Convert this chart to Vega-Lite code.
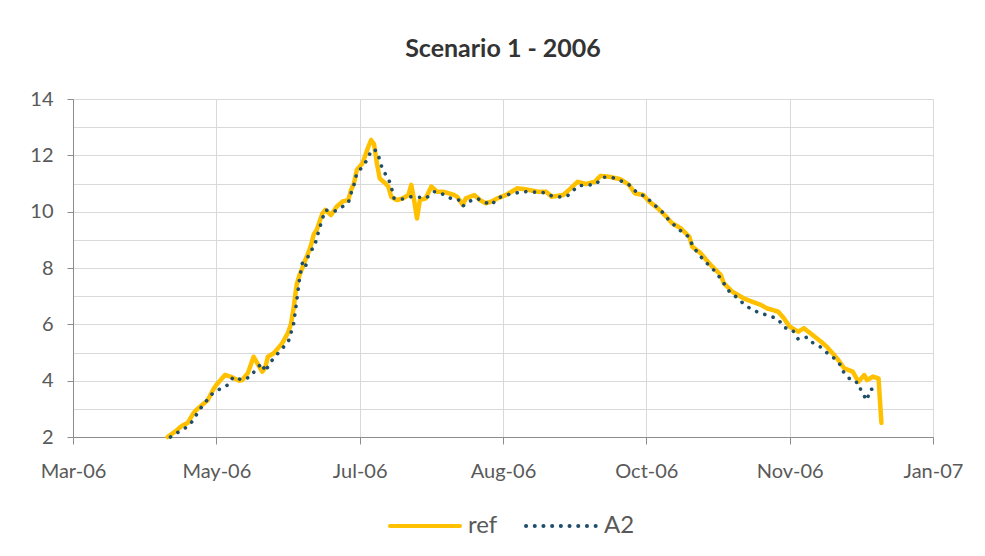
{
  "$schema": "https://vega.github.io/schema/vega-lite/v6.json",
  "autosize": {"type": "none"},
  "padding": {"left": 73, "top": 99, "right": 52, "bottom": 119},
  "width": 860,
  "height": 338,
  "background": "white",
  "config": {
    "font": "Lato",
    "view": {"stroke": null},
    "axis": {
      "labelFont": "Lato",
      "labelFontSize": 20,
      "labelColor": "#595959",
      "domainColor": "#8C8C8C",
      "tickColor": "#8C8C8C",
      "gridColor": "#D9D9D9",
      "gridWidth": 1,
      "title": null
    },
    "legend": {
      "labelFont": "Lato",
      "labelFontSize": 24,
      "labelColor": "#595959"
    },
    "title": {
      "font": "Lato",
      "fontSize": 25,
      "fontWeight": "bold",
      "color": "#333333",
      "anchor": "middle",
      "offset": 27
    }
  },
  "title": "Scenario 1 - 2006",
  "data": {
    "values": [
      {"date": "2006-04-26", "series": "ref", "value": 2.0},
      {"date": "2006-04-29", "series": "ref", "value": 2.22},
      {"date": "2006-05-01", "series": "ref", "value": 2.4},
      {"date": "2006-05-03", "series": "ref", "value": 2.5},
      {"date": "2006-05-05", "series": "ref", "value": 2.84},
      {"date": "2006-05-06", "series": "ref", "value": 2.96},
      {"date": "2006-05-10", "series": "ref", "value": 3.31},
      {"date": "2006-05-12", "series": "ref", "value": 3.7},
      {"date": "2006-05-13", "series": "ref", "value": 3.85},
      {"date": "2006-05-16", "series": "ref", "value": 4.2},
      {"date": "2006-05-18", "series": "ref", "value": 4.14},
      {"date": "2006-05-21", "series": "ref", "value": 4.0},
      {"date": "2006-05-22", "series": "ref", "value": 4.02},
      {"date": "2006-05-24", "series": "ref", "value": 4.27},
      {"date": "2006-05-26", "series": "ref", "value": 4.85},
      {"date": "2006-05-27", "series": "ref", "value": 4.67},
      {"date": "2006-05-29", "series": "ref", "value": 4.32},
      {"date": "2006-05-30", "series": "ref", "value": 4.45},
      {"date": "2006-05-31", "series": "ref", "value": 4.85},
      {"date": "2006-06-02", "series": "ref", "value": 4.97},
      {"date": "2006-06-05", "series": "ref", "value": 5.33},
      {"date": "2006-06-07", "series": "ref", "value": 5.7},
      {"date": "2006-06-08", "series": "ref", "value": 6.0},
      {"date": "2006-06-09", "series": "ref", "value": 6.6},
      {"date": "2006-06-10", "series": "ref", "value": 7.4},
      {"date": "2006-06-11", "series": "ref", "value": 7.75},
      {"date": "2006-06-12", "series": "ref", "value": 8.0},
      {"date": "2006-06-13", "series": "ref", "value": 8.28},
      {"date": "2006-06-14", "series": "ref", "value": 8.52},
      {"date": "2006-06-15", "series": "ref", "value": 8.8},
      {"date": "2006-06-16", "series": "ref", "value": 9.2},
      {"date": "2006-06-17", "series": "ref", "value": 9.35},
      {"date": "2006-06-19", "series": "ref", "value": 9.94},
      {"date": "2006-06-20", "series": "ref", "value": 10.06},
      {"date": "2006-06-22", "series": "ref", "value": 9.88},
      {"date": "2006-06-24", "series": "ref", "value": 10.18},
      {"date": "2006-06-26", "series": "ref", "value": 10.36},
      {"date": "2006-06-28", "series": "ref", "value": 10.41},
      {"date": "2006-06-29", "series": "ref", "value": 10.77},
      {"date": "2006-06-30", "series": "ref", "value": 11.0},
      {"date": "2006-07-01", "series": "ref", "value": 11.48},
      {"date": "2006-07-03", "series": "ref", "value": 11.72},
      {"date": "2006-07-05", "series": "ref", "value": 12.3},
      {"date": "2006-07-06", "series": "ref", "value": 12.54},
      {"date": "2006-07-07", "series": "ref", "value": 12.4},
      {"date": "2006-07-08", "series": "ref", "value": 11.72},
      {"date": "2006-07-09", "series": "ref", "value": 11.18},
      {"date": "2006-07-11", "series": "ref", "value": 11.0},
      {"date": "2006-07-12", "series": "ref", "value": 10.89},
      {"date": "2006-07-13", "series": "ref", "value": 10.53},
      {"date": "2006-07-15", "series": "ref", "value": 10.41},
      {"date": "2006-07-17", "series": "ref", "value": 10.47},
      {"date": "2006-07-19", "series": "ref", "value": 10.59},
      {"date": "2006-07-20", "series": "ref", "value": 10.95},
      {"date": "2006-07-21", "series": "ref", "value": 10.4},
      {"date": "2006-07-22", "series": "ref", "value": 9.76},
      {"date": "2006-07-23", "series": "ref", "value": 10.41},
      {"date": "2006-07-25", "series": "ref", "value": 10.47},
      {"date": "2006-07-27", "series": "ref", "value": 10.89},
      {"date": "2006-07-29", "series": "ref", "value": 10.71},
      {"date": "2006-07-31", "series": "ref", "value": 10.71},
      {"date": "2006-08-02", "series": "ref", "value": 10.65},
      {"date": "2006-08-04", "series": "ref", "value": 10.59},
      {"date": "2006-08-05", "series": "ref", "value": 10.53},
      {"date": "2006-08-07", "series": "ref", "value": 10.24},
      {"date": "2006-08-08", "series": "ref", "value": 10.47},
      {"date": "2006-08-11", "series": "ref", "value": 10.59},
      {"date": "2006-08-13", "series": "ref", "value": 10.41},
      {"date": "2006-08-15", "series": "ref", "value": 10.3},
      {"date": "2006-08-17", "series": "ref", "value": 10.36},
      {"date": "2006-08-19", "series": "ref", "value": 10.47},
      {"date": "2006-08-22", "series": "ref", "value": 10.59},
      {"date": "2006-08-25", "series": "ref", "value": 10.77},
      {"date": "2006-08-26", "series": "ref", "value": 10.83},
      {"date": "2006-08-29", "series": "ref", "value": 10.79},
      {"date": "2006-09-02", "series": "ref", "value": 10.71},
      {"date": "2006-09-05", "series": "ref", "value": 10.71},
      {"date": "2006-09-07", "series": "ref", "value": 10.53},
      {"date": "2006-09-11", "series": "ref", "value": 10.59},
      {"date": "2006-09-13", "series": "ref", "value": 10.77},
      {"date": "2006-09-16", "series": "ref", "value": 11.06},
      {"date": "2006-09-19", "series": "ref", "value": 10.98},
      {"date": "2006-09-22", "series": "ref", "value": 11.06},
      {"date": "2006-09-24", "series": "ref", "value": 11.27},
      {"date": "2006-09-27", "series": "ref", "value": 11.24},
      {"date": "2006-10-01", "series": "ref", "value": 11.15},
      {"date": "2006-10-04", "series": "ref", "value": 10.95},
      {"date": "2006-10-06", "series": "ref", "value": 10.65},
      {"date": "2006-10-09", "series": "ref", "value": 10.59},
      {"date": "2006-10-11", "series": "ref", "value": 10.36},
      {"date": "2006-10-14", "series": "ref", "value": 10.12},
      {"date": "2006-10-17", "series": "ref", "value": 9.82},
      {"date": "2006-10-19", "series": "ref", "value": 9.59},
      {"date": "2006-10-22", "series": "ref", "value": 9.41},
      {"date": "2006-10-25", "series": "ref", "value": 9.11},
      {"date": "2006-10-26", "series": "ref", "value": 8.76},
      {"date": "2006-10-29", "series": "ref", "value": 8.52},
      {"date": "2006-10-31", "series": "ref", "value": 8.28},
      {"date": "2006-11-02", "series": "ref", "value": 8.05},
      {"date": "2006-11-05", "series": "ref", "value": 7.75},
      {"date": "2006-11-06", "series": "ref", "value": 7.46},
      {"date": "2006-11-09", "series": "ref", "value": 7.16},
      {"date": "2006-11-13", "series": "ref", "value": 6.92},
      {"date": "2006-11-16", "series": "ref", "value": 6.8},
      {"date": "2006-11-19", "series": "ref", "value": 6.69},
      {"date": "2006-11-21", "series": "ref", "value": 6.57},
      {"date": "2006-11-25", "series": "ref", "value": 6.45},
      {"date": "2006-11-27", "series": "ref", "value": 6.21},
      {"date": "2006-11-29", "series": "ref", "value": 5.92},
      {"date": "2006-12-02", "series": "ref", "value": 5.74},
      {"date": "2006-12-04", "series": "ref", "value": 5.86},
      {"date": "2006-12-07", "series": "ref", "value": 5.62},
      {"date": "2006-12-10", "series": "ref", "value": 5.38},
      {"date": "2006-12-12", "series": "ref", "value": 5.2},
      {"date": "2006-12-14", "series": "ref", "value": 4.97},
      {"date": "2006-12-16", "series": "ref", "value": 4.73},
      {"date": "2006-12-18", "series": "ref", "value": 4.44},
      {"date": "2006-12-21", "series": "ref", "value": 4.32},
      {"date": "2006-12-22", "series": "ref", "value": 4.14},
      {"date": "2006-12-23", "series": "ref", "value": 3.96},
      {"date": "2006-12-25", "series": "ref", "value": 4.2},
      {"date": "2006-12-26", "series": "ref", "value": 4.02},
      {"date": "2006-12-28", "series": "ref", "value": 4.14},
      {"date": "2006-12-30", "series": "ref", "value": 4.08},
      {"date": "2006-12-31", "series": "ref", "value": 2.5},
      {"date": "2006-04-27", "series": "A2", "value": 2.0},
      {"date": "2006-04-30", "series": "A2", "value": 2.19},
      {"date": "2006-05-03", "series": "A2", "value": 2.37},
      {"date": "2006-05-05", "series": "A2", "value": 2.6},
      {"date": "2006-05-07", "series": "A2", "value": 2.96},
      {"date": "2006-05-09", "series": "A2", "value": 3.2},
      {"date": "2006-05-11", "series": "A2", "value": 3.49},
      {"date": "2006-05-14", "series": "A2", "value": 3.69},
      {"date": "2006-05-17", "series": "A2", "value": 3.85},
      {"date": "2006-05-19", "series": "A2", "value": 4.14},
      {"date": "2006-05-22", "series": "A2", "value": 4.02},
      {"date": "2006-05-25", "series": "A2", "value": 4.14},
      {"date": "2006-05-27", "series": "A2", "value": 4.44},
      {"date": "2006-05-29", "series": "A2", "value": 4.62},
      {"date": "2006-05-30", "series": "A2", "value": 4.32},
      {"date": "2006-06-01", "series": "A2", "value": 4.67},
      {"date": "2006-06-03", "series": "A2", "value": 4.91},
      {"date": "2006-06-05", "series": "A2", "value": 5.15},
      {"date": "2006-06-07", "series": "A2", "value": 5.35},
      {"date": "2006-06-08", "series": "A2", "value": 5.68},
      {"date": "2006-06-09", "series": "A2", "value": 6.04},
      {"date": "2006-06-10", "series": "A2", "value": 6.8},
      {"date": "2006-06-11", "series": "A2", "value": 7.6},
      {"date": "2006-06-12", "series": "A2", "value": 8.17},
      {"date": "2006-06-13", "series": "A2", "value": 8.0},
      {"date": "2006-06-14", "series": "A2", "value": 8.4},
      {"date": "2006-06-15", "series": "A2", "value": 8.64},
      {"date": "2006-06-16", "series": "A2", "value": 8.7},
      {"date": "2006-06-17", "series": "A2", "value": 9.05},
      {"date": "2006-06-18", "series": "A2", "value": 9.41},
      {"date": "2006-06-19", "series": "A2", "value": 9.75},
      {"date": "2006-06-20", "series": "A2", "value": 10.06},
      {"date": "2006-06-23", "series": "A2", "value": 10.0},
      {"date": "2006-06-25", "series": "A2", "value": 10.12},
      {"date": "2006-06-28", "series": "A2", "value": 10.3},
      {"date": "2006-06-29", "series": "A2", "value": 10.65},
      {"date": "2006-06-30", "series": "A2", "value": 10.95},
      {"date": "2006-07-01", "series": "A2", "value": 11.36},
      {"date": "2006-07-03", "series": "A2", "value": 11.6},
      {"date": "2006-07-05", "series": "A2", "value": 11.9},
      {"date": "2006-07-06", "series": "A2", "value": 12.19},
      {"date": "2006-07-07", "series": "A2", "value": 12.2},
      {"date": "2006-07-08", "series": "A2", "value": 12.15},
      {"date": "2006-07-09", "series": "A2", "value": 11.83},
      {"date": "2006-07-10", "series": "A2", "value": 11.48},
      {"date": "2006-07-12", "series": "A2", "value": 11.18},
      {"date": "2006-07-13", "series": "A2", "value": 10.89},
      {"date": "2006-07-14", "series": "A2", "value": 10.47},
      {"date": "2006-07-17", "series": "A2", "value": 10.45},
      {"date": "2006-07-20", "series": "A2", "value": 10.53},
      {"date": "2006-07-23", "series": "A2", "value": 10.51},
      {"date": "2006-07-25", "series": "A2", "value": 10.47},
      {"date": "2006-07-28", "series": "A2", "value": 10.71},
      {"date": "2006-07-30", "series": "A2", "value": 10.68},
      {"date": "2006-08-01", "series": "A2", "value": 10.56},
      {"date": "2006-08-04", "series": "A2", "value": 10.41},
      {"date": "2006-08-06", "series": "A2", "value": 10.41},
      {"date": "2006-08-07", "series": "A2", "value": 10.2},
      {"date": "2006-08-09", "series": "A2", "value": 10.36},
      {"date": "2006-08-12", "series": "A2", "value": 10.47},
      {"date": "2006-08-14", "series": "A2", "value": 10.36},
      {"date": "2006-08-17", "series": "A2", "value": 10.24},
      {"date": "2006-08-19", "series": "A2", "value": 10.47},
      {"date": "2006-08-22", "series": "A2", "value": 10.59},
      {"date": "2006-08-26", "series": "A2", "value": 10.67},
      {"date": "2006-08-29", "series": "A2", "value": 10.71},
      {"date": "2006-09-02", "series": "A2", "value": 10.69},
      {"date": "2006-09-05", "series": "A2", "value": 10.67},
      {"date": "2006-09-07", "series": "A2", "value": 10.56},
      {"date": "2006-09-11", "series": "A2", "value": 10.51},
      {"date": "2006-09-13", "series": "A2", "value": 10.59},
      {"date": "2006-09-16", "series": "A2", "value": 10.91},
      {"date": "2006-09-19", "series": "A2", "value": 10.95},
      {"date": "2006-09-22", "series": "A2", "value": 10.95},
      {"date": "2006-09-25", "series": "A2", "value": 11.22},
      {"date": "2006-09-28", "series": "A2", "value": 11.22},
      {"date": "2006-10-01", "series": "A2", "value": 11.1},
      {"date": "2006-10-04", "series": "A2", "value": 10.95},
      {"date": "2006-10-07", "series": "A2", "value": 10.65},
      {"date": "2006-10-10", "series": "A2", "value": 10.53},
      {"date": "2006-10-12", "series": "A2", "value": 10.3},
      {"date": "2006-10-15", "series": "A2", "value": 10.06},
      {"date": "2006-10-17", "series": "A2", "value": 9.8},
      {"date": "2006-10-19", "series": "A2", "value": 9.59},
      {"date": "2006-10-22", "series": "A2", "value": 9.32},
      {"date": "2006-10-25", "series": "A2", "value": 9.09},
      {"date": "2006-10-26", "series": "A2", "value": 8.82},
      {"date": "2006-10-28", "series": "A2", "value": 8.52},
      {"date": "2006-10-30", "series": "A2", "value": 8.28},
      {"date": "2006-11-02", "series": "A2", "value": 7.99},
      {"date": "2006-11-04", "series": "A2", "value": 7.75},
      {"date": "2006-11-06", "series": "A2", "value": 7.46},
      {"date": "2006-11-08", "series": "A2", "value": 7.16},
      {"date": "2006-11-11", "series": "A2", "value": 6.92},
      {"date": "2006-11-13", "series": "A2", "value": 6.72},
      {"date": "2006-11-16", "series": "A2", "value": 6.51},
      {"date": "2006-11-19", "series": "A2", "value": 6.39},
      {"date": "2006-11-22", "series": "A2", "value": 6.3},
      {"date": "2006-11-25", "series": "A2", "value": 6.18},
      {"date": "2006-11-27", "series": "A2", "value": 5.89},
      {"date": "2006-11-30", "series": "A2", "value": 5.8},
      {"date": "2006-12-02", "series": "A2", "value": 5.47},
      {"date": "2006-12-05", "series": "A2", "value": 5.54},
      {"date": "2006-12-07", "series": "A2", "value": 5.35},
      {"date": "2006-12-10", "series": "A2", "value": 5.18},
      {"date": "2006-12-12", "series": "A2", "value": 4.99},
      {"date": "2006-12-15", "series": "A2", "value": 4.76},
      {"date": "2006-12-17", "series": "A2", "value": 4.52},
      {"date": "2006-12-18", "series": "A2", "value": 4.26},
      {"date": "2006-12-21", "series": "A2", "value": 3.96},
      {"date": "2006-12-23", "series": "A2", "value": 3.93},
      {"date": "2006-12-24", "series": "A2", "value": 3.61},
      {"date": "2006-12-26", "series": "A2", "value": 3.3},
      {"date": "2006-12-27", "series": "A2", "value": 3.68},
      {"date": "2006-12-29", "series": "A2", "value": 3.73},
      {"date": "2006-12-30", "series": "A2", "value": 3.8}
    ]
  },
  "encoding": {
    "x": {
      "field": "date",
      "type": "temporal",
      "scale": {
        "domain": [
          {"year": 2006, "month": 3, "date": 24},
          {"year": 2007, "month": 1, "date": 18}
        ],
        "nice": false
      },
      "axis": {
        "values": [
          {"year": 2006, "month": 3, "date": 24},
          {"year": 2006, "month": 5, "date": 13},
          {"year": 2006, "month": 7, "date": 2},
          {"year": 2006, "month": 8, "date": 21},
          {"year": 2006, "month": 10, "date": 10},
          {"year": 2006, "month": 11, "date": 29},
          {"year": 2007, "month": 1, "date": 18}
        ],
        "format": "%b-%y",
        "grid": true,
        "tickSize": 7,
        "labelPadding": 17,
        "labelFlush": false,
        "labelOverlap": false
      }
    },
    "y": {
      "field": "value",
      "type": "quantitative",
      "scale": {"domain": [2, 14], "nice": false, "zero": false},
      "axis": {
        "values": [2, 3, 4, 5, 6, 7, 8, 9, 10, 11, 12, 13, 14],
        "labelExpr": "datum.value % 2 == 0 ? datum.label : ''",
        "tickOpacity": {"condition": {"test": "datum.value % 2 == 0", "value": 1}, "value": 0},
        "grid": true,
        "tickSize": 6,
        "labelPadding": 14
      }
    },
    "color": {
      "field": "series",
      "type": "nominal",
      "scale": {"domain": ["ref", "A2"], "range": ["#FFC000", "#1F4E6B"]},
      "legend": {
        "title": null,
        "orient": "none",
        "direction": "horizontal",
        "legendX": 315,
        "legendY": 390,
        "symbolSize": 4900,
        "symbolStrokeWidth": 4,
        "labelOffset": 6,
        "columnPadding": 20,
        "encode": {"symbols": {"update": {"strokeCap": {"value": "round"}}}}
      }
    },
    "strokeDash": {
      "field": "series",
      "type": "nominal",
      "scale": {"domain": ["ref", "A2"], "range": [[1, 0], [0.1, 8.6]]},
      "legend": {
        "title": null,
        "orient": "none",
        "direction": "horizontal",
        "legendX": 315,
        "legendY": 390,
        "symbolSize": 4900,
        "symbolStrokeWidth": 4,
        "labelOffset": 6,
        "columnPadding": 20,
        "encode": {"symbols": {"update": {"strokeCap": {"value": "round"}}}}
      }
    }
  },
  "layer": [
    {
      "transform": [{"filter": "datum.series == 'ref'"}],
      "mark": {"type": "line", "strokeWidth": 4.5, "strokeCap": "round", "strokeJoin": "round"}
    },
    {
      "transform": [{"filter": "datum.series == 'A2'"}],
      "mark": {"type": "line", "strokeWidth": 3.6, "strokeCap": "round", "strokeJoin": "round"}
    }
  ]
}
